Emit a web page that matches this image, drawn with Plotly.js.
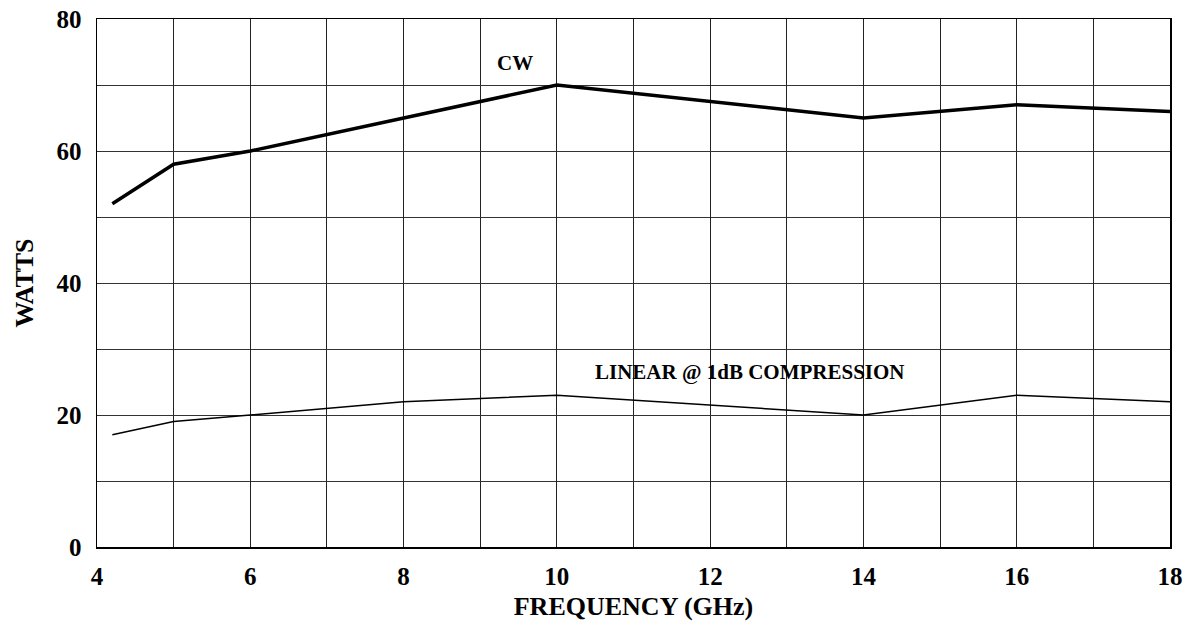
<!DOCTYPE html>
<html>
<head>
<meta charset="utf-8">
<script src="https://cdn.plot.ly/plotly-3.0.1.min.js"></script>
<style>html,body{margin:0;padding:0;background:#fff;}#chart{width:1187px;height:628px;}</style>
</head>
<body>
<div id="chart"></div>
<script>
const freqGHz = [4.2, 5, 6, 8, 10, 14, 16, 18];
const cwWatts = [52, 58, 60, 65, 70, 65, 67, 66];
const linearWatts = [17, 19, 20, 22, 23, 20, 23, 22];
const xTickVals = [4, 6, 8, 10, 12, 14, 16, 18];
const yTickVals = [0, 20, 40, 60, 80];

const fam = '"Liberation Serif", "Times New Roman", serif';

const traces = [
  {x: freqGHz, y: cwWatts, type: 'scatter', mode: 'lines', name: 'CW',
   line: {color: '#000', width: 3.5}},
  {x: freqGHz, y: linearWatts, type: 'scatter', mode: 'lines', name: 'LINEAR @ 1dB COMPRESSION',
   line: {color: '#000', width: 1.5}}
];

const layout = {
  width: 1187, height: 628,
  margin: {l: 97, r: 17, t: 19, b: 81},
  paper_bgcolor: '#fff', plot_bgcolor: '#fff',
  showlegend: false,
  font: {family: fam, color: '#000'},
  xaxis: {
    range: [4, 18], tickmode: 'array', tickvals: xTickVals,
    ticktext: xTickVals.map(v => '<b>' + v + '</b>'),
    tickfont: {size: 25, family: fam, color: '#000'},
    ticklabelstandoff: 6,
    showgrid: true, gridcolor: '#222', gridwidth: 1,
    minor: {dtick: 1, tick0: 4, showgrid: true, gridcolor: '#222', gridwidth: 1, ticks: ''},
    showline: true, linecolor: '#000', linewidth: 1.5, mirror: true,
    zeroline: false, ticks: '', automargin: false,
    title: {text: '<b>FREQUENCY (GHz)</b>', font: {size: 26, family: fam, color: '#000'}, standoff: 8}
  },
  yaxis: {
    range: [0, 80], tickmode: 'array', tickvals: yTickVals,
    ticktext: yTickVals.map(v => '<b>' + v + '</b>'),
    tickfont: {size: 25, family: fam, color: '#000'},
    ticklabelstandoff: 9,
    showgrid: true, gridcolor: '#333', gridwidth: 1,
    minor: {dtick: 10, tick0: 0, showgrid: true, gridcolor: '#333', gridwidth: 1, ticks: ''},
    showline: true, linecolor: '#000', linewidth: 1.5, mirror: true,
    zeroline: false, ticks: '', automargin: false,
    title: {text: '<b>WATTS</b>', font: {size: 26, family: fam, color: '#000'}, standoff: 15}
  },
  annotations: [
    {x: 9.45, y: 73.4, xref: 'x', yref: 'y', text: '<b>CW</b>', showarrow: false,
     font: {size: 21, family: fam, color: '#000'}},
    {x: 12.52, y: 26.5, xref: 'x', yref: 'y', text: '<b>LINEAR @ 1dB COMPRESSION</b>', showarrow: false,
     font: {size: 21, family: fam, color: '#000'}}
  ]
};

Plotly.newPlot('chart', traces, layout, {displayModeBar: false, staticPlot: true});
</script>
</body>
</html>
